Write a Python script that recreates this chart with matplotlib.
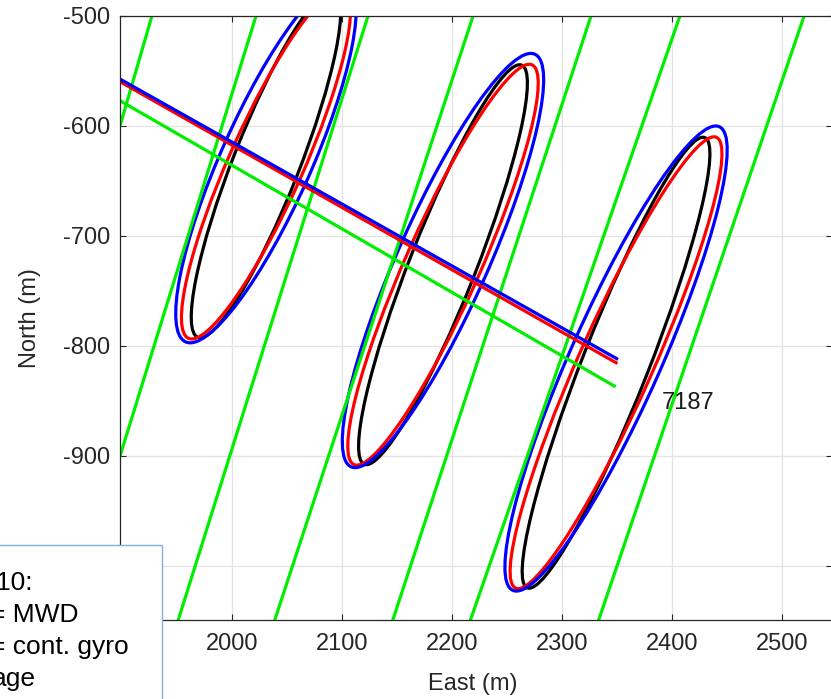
import matplotlib
matplotlib.use("Agg")
import matplotlib.pyplot as plt
from matplotlib.patches import Ellipse, Rectangle

plt.rcParams["font.family"] = ["Liberation Sans", "DejaVu Sans"]
plt.rcParams["axes.unicode_minus"] = False

# neighbour wells (green), east coordinate at north = -480 and -1060
well_north = [-480, -1060]
well_east_top = [1933.3, 2028.3, 2130.2, 2226.0, 2333.2, 2414.4, 2527.1]
well_east_bottom = [1765.1, 1849.1, 1948.0, 2035.6, 2142.9, 2213.3, 2329.9]

# main well 7187 trajectories
blue_east = [1880, 2350]
blue_north = [-546.9, -811.5]
red_east = [1880, 2349.4]
red_north = [-549.2, -815.2]
green_east = [1880, 2347.8]
green_north = [-566.3, -836.4]

# uncertainty loops along the trajectory
loop_east_blue = [2031.2, 2192.1, 2349.4]
loop_north_blue = [-632.3, -722.3, -811.4]
loop_east_red = [2031.2, 2192.1, 2349.4]
loop_north_red = [-634.9, -726.1, -815.2]
semi_major_blue = [179.5, 205.3, 230.7]
semi_major_red = [173.1, 198.9, 224.3]
semi_major_black = [169.0, 195.0, 220.0]
semi_minor = {"blue": 41.0, "red": 33.7, "black": 30.0}
tilt = {"blue": 66.0, "red": 66.0, "black": 68.5}

fig = plt.figure(figsize=(8.31, 6.99), dpi=100)
ax = fig.add_axes([120 / 831, 79 / 699, 712 / 831, 604 / 699])

lw = 2.3
for e0, e1 in zip(well_east_top, well_east_bottom):
    ax.plot([e0, e1], well_north, color="#00ee00", lw=lw)
ax.plot(green_east, green_north, color="#00ee00", lw=lw)

loops = [
    ("black", "k", semi_major_black, loop_east_red, loop_north_red),
    ("red", "#ff0000", semi_major_red, loop_east_red, loop_north_red),
    ("blue", "#0000ff", semi_major_blue, loop_east_blue, loop_north_blue),
]
for name, col, amaj, ce, cn in loops:
    for e, n, a in zip(ce, cn, amaj):
        ax.add_patch(Ellipse((e, n), 2 * a, 2 * semi_minor[name], angle=tilt[name],
                             fill=False, edgecolor=col, lw=lw))

ax.plot(red_east, red_north, color="#ff0000", lw=lw)
ax.plot(blue_east, blue_north, color="#0000ff", lw=lw)

ax.text(2414.8, -851.8, "7187", fontsize=17, ha="center", va="center", color="#1a1a1a")

ax.set_xlim(1898.5, 2545.7)
ax.set_ylim(-1049.1, -500)
ax.set_xticks([2000, 2100, 2200, 2300, 2400, 2500])
ax.set_yticks([-1000, -900, -800, -700, -600, -500])
ax.grid(True, color="#e3e3e3", lw=0.9)
ax.set_axisbelow(True)
for s in ax.spines.values():
    s.set_color("#262626")
    s.set_linewidth(0.9)
ax.tick_params(direction="in", length=4.5, width=0.8, colors="#262626",
               labelsize=17, top=True, right=True)
ax.tick_params(axis="x", pad=9)
ax.tick_params(axis="y", pad=7)

ax.set_xlabel("East (m)", fontsize=17, color="#262626", va="center")
ax.xaxis.set_label_coords(0.495, (620 - 684) / 604)
ax.set_ylabel("North (m)", fontsize=17, color="#262626", va="center")
ax.yaxis.set_label_coords((30 - 120) / 712, 0.5)

# annotation box in the lower left corner, cut by the figure edge
fig.add_artist(Rectangle((-10 / 831, -10 / 699), 172 / 831, 164 / 699,
                         transform=fig.transFigure, facecolor="white",
                         edgecolor="#80b0e0", lw=1.0, zorder=5))
box_lines = [("10:", -4, 590), ("= MWD", -10, 622), ("= cont. gyro", -10, 654), ("age", -8, 686)]
for s, x, y in box_lines:
    fig.text(x / 831, 1 - y / 699, s, fontsize=19, ha="left", va="baseline",
             color="black", zorder=6)

fig.savefig("out.png", dpi=100)
